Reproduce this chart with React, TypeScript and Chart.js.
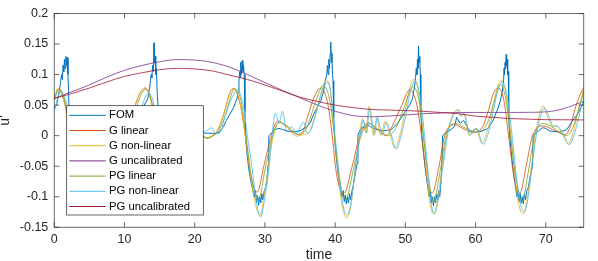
import React, { useEffect, useRef } from "react";
import { Chart, registerables } from "chart.js";

Chart.register(...registerables);

// ---------- data ----------
const xTicks = [0, 10, 20, 30, 40, 50, 60, 70];
const yTicks = [-0.15, -0.1, -0.05, 0, 0.05, 0.1, 0.15, 0.2];

const seriesNames = ["FOM", "G linear", "G non-linear", "G uncalibrated", "PG linear", "PG non-linear", "PG uncalibrated"];

const fomT = [
  0, 0.3, 0.6, 0.9, 1.05, 1.15, 1.25, 1.35, 1.45, 1.55, 1.65, 1.75, 1.85, 1.95, 2.1, 2.3, 2.6, 3.0, 3.3, 3.5, 3.7, 3.9, 4.1, 4.3, 4.5, 4.8, 5.1, 5.4, 5.5,
  6.0, 7.0, 8.0, 9.0, 10.0, 11.0, 12.0, 12.8, 13.3, 13.6, 13.7, 13.8, 13.9, 14.0, 14.1, 14.2, 14.25, 14.35, 14.45, 14.55, 14.65, 14.8, 15.0,
  15.5, 16.0, 16.3, 16.6, 16.9, 17.2, 17.5, 17.8, 18.1, 18.3, 18.4, 19.0, 20.0, 21.0, 21.5, 22.0, 22.5, 23.0, 23.5, 24.1, 24.5, 25.0, 25.5,
  26.0, 26.2, 26.3, 26.4, 26.5, 26.55, 26.65, 26.75, 26.85, 26.95, 27.05, 27.15, 27.3, 27.45, 27.7, 28.0, 28.3, 28.5, 28.65, 28.8, 28.95,
  29.1, 29.25, 29.4, 29.55, 29.7, 29.9, 30.1, 30.3, 30.45, 30.55, 31.0, 31.5, 32.0, 32.5, 33.0, 34.0, 35.0, 36.0, 36.5, 36.9, 37.5, 38.0,
  38.3, 38.6, 38.8, 38.9, 39.0, 39.1, 39.2, 39.3, 39.38, 39.45, 39.55, 39.62, 39.7, 39.8, 39.95, 40.2, 40.5, 40.8, 41.0, 41.15, 41.3, 41.45,
  41.6, 41.75, 41.9, 42.05, 42.2, 42.4, 42.6, 42.9, 43.15, 43.25, 43.6, 44.0, 44.3, 44.6, 45.0, 45.5, 46.0, 47.0, 48.0, 49.0, 50.0, 50.6,
  51.0, 51.3, 51.45, 51.55, 51.65, 51.72, 51.8, 51.88, 51.95, 52.05, 52.12, 52.2, 52.35, 52.6, 52.9, 53.2, 53.4, 53.55, 53.7, 53.85, 54.0,
  54.15, 54.3, 54.45, 54.6, 54.75, 54.9, 55.05, 55.2, 55.3, 55.8, 56.5, 57.0, 57.3, 57.8, 58.3, 59.0, 59.5, 60.0, 60.5, 61.0, 61.8, 62.5,
  63.2, 63.6, 63.9, 64.0, 64.05, 64.12, 64.2, 64.28, 64.35, 64.42, 64.5, 64.58, 64.65, 64.72, 64.85, 65.1, 65.4, 65.7, 65.9, 66.05, 66.2,
  66.35, 66.5, 66.65, 66.8, 66.95, 67.1, 67.3, 67.5, 67.8, 68.1, 68.2, 68.6, 69.0, 69.5, 70.0, 70.5, 71.0, 72.0, 73.0, 73.7, 74.5, 75.5,
];
const fomU = [
  0.045, 0.05, 0.065, 0.088, 0.1, 0.092, 0.115, 0.105, 0.125, 0.11, 0.13, 0.115, 0.128, 0.1, 0.047, 0.0, -0.04, -0.08, -0.1, -0.09, -0.11, -0.095, -0.11, -0.1, -0.108, -0.095, -0.07, -0.045, 0.002,
  0.01, 0.015, 0.01, 0.008, 0.01, 0.02, 0.035, 0.05, 0.06, 0.08, 0.09, 0.1, 0.095, 0.115, 0.105, 0.152, 0.12, 0.13, 0.1, 0.11, 0.07, 0.045, 0.0,
  -0.05, -0.09, -0.105, -0.095, -0.112, -0.1, -0.108, -0.095, -0.08, -0.05, 0.0, 0.01, 0.008, 0.006, 0.004, 0.004, 0.004, 0.003, 0.006, 0.015, 0.025, 0.035, 0.045,
  0.06, 0.071, 0.09, 0.105, 0.095, 0.12, 0.1, 0.123, 0.105, 0.115, 0.1, 0.04, -0.01, -0.03, -0.055, -0.075, -0.09, -0.1, -0.09, -0.11, -0.098,
  -0.114, -0.1, -0.11, -0.095, -0.105, -0.09, -0.085, -0.07, -0.047, 0.0, 0.005, 0.01, 0.012, 0.01, 0.008, 0.006, 0.008, 0.015, 0.022, 0.034, 0.048, 0.058,
  0.07, 0.09, 0.1, 0.115, 0.1, 0.125, 0.11, 0.135, 0.153, 0.12, 0.135, 0.1, 0.09, 0.03, -0.01, -0.04, -0.07, -0.09, -0.1, -0.09, -0.108, -0.097,
  -0.112, -0.1, -0.11, -0.095, -0.105, -0.09, -0.08, -0.06, -0.045, 0.002, 0.01, 0.015, 0.012, 0.018, 0.015, 0.012, 0.01, 0.008, 0.01, 0.022, 0.04, 0.05,
  0.06, 0.08, 0.095, 0.11, 0.1, 0.125, 0.11, 0.147, 0.12, 0.13, 0.1, 0.04, 0.0, -0.03, -0.06, -0.085, -0.1, -0.09, -0.11, -0.1, -0.115,
  -0.1, -0.11, -0.095, -0.105, -0.09, -0.1, -0.08, -0.05, 0.0, 0.005, 0.01, 0.015, 0.03, 0.02, 0.025, 0.01, 0.005, 0.012, 0.006, 0.008, 0.012, 0.025,
  0.045, 0.06, 0.08, 0.093, 0.11, 0.1, 0.12, 0.11, 0.133, 0.115, 0.125, 0.1, 0.105, 0.04, 0.0, -0.03, -0.06, -0.085, -0.1, -0.09, -0.108,
  -0.095, -0.11, -0.1, -0.112, -0.095, -0.105, -0.09, -0.085, -0.065, -0.05, 0.0, 0.005, 0.008, 0.013, 0.012, 0.008, 0.007, 0.006, 0.01, 0.023, 0.035, 0.057,
];

const gLinT = [
  0, 0.55, 1.55, 2.25, 3.05, 3.85, 4.85, 5.85, 7.3, 9.0, 9.9, 10.9, 11.9, 12.9, 13.9, 14.6, 15.4, 16.2, 17.2, 18.2, 19.5, 21.7, 22.5, 23.3,
  24.0, 24.5, 25.0, 25.5, 26.5, 27.2, 28.0, 28.9, 29.9, 30.9, 31.8, 33.0, 34.7, 35.4, 36.0, 36.9, 37.9, 38.9, 39.5, 40.2, 41.2, 42.5, 43.5,
  44.7, 46.0, 47.3, 48.1, 49.5, 50.6, 51.6, 52.3, 53.0, 53.8, 54.8, 55.6, 57.0, 58.5, 59.8, 61.0, 61.8, 62.5, 63.2, 64.0, 64.7, 65.5, 66.3,
  67.2, 68.1, 69.6, 71.0, 72.8, 73.5, 74.2, 75.0, 75.5,
];
const gLinU = [
  0.062, 0.076, 0.05, 0.0, -0.068, -0.093, -0.05, 0.0, 0.021, 0.008, 0.002, 0.026, 0.062, 0.078, 0.052, 0.0, -0.068, -0.093, -0.05, 0.0, 0.021, -0.004, 0.0, 0.01,
  0.03, 0.05, 0.07, 0.077, 0.05, 0.0, -0.068, -0.092, -0.047, 0.0, 0.024, 0.016, 0.002, 0.006, 0.028, 0.06, 0.078, 0.055, 0.008, -0.063, -0.095, -0.047, 0.0,
  0.021, 0.01, 0.0, 0.015, 0.05, 0.075, 0.052, 0.0, -0.065, -0.094, -0.05, 0.0, 0.018, 0.01, 0.005, 0.015, 0.04, 0.068, 0.078, 0.06, 0.0, -0.07, -0.094,
  -0.05, 0.0, 0.016, 0.01, 0.002, 0.015, 0.045, 0.07, 0.08,
];

const gNonT = [
  0, 0.5, 1.5, 2.2, 3.0, 3.9, 4.9, 5.9, 7.3, 9.0, 9.9, 10.9, 11.9, 12.9, 13.9, 14.6, 15.5, 16.4, 17.4, 18.4, 19.8, 21.7, 22.5, 23.3, 24.0,
  24.5, 25.0, 25.5, 26.5, 27.2, 28.0, 28.6, 29.3, 30.0, 30.5, 31.2, 32.0, 33.0, 34.5, 35.2, 36.4, 37.4, 38.1, 38.7, 39.3, 39.8, 40.3, 40.8,
  41.65, 42.3, 42.8, 43.4, 43.9, 44.4, 44.8, 45.5, 45.9, 46.5, 47.1, 47.8, 48.5, 49.2, 49.8, 50.4, 51.1, 51.8, 52.5, 53.1, 53.5, 54.0, 54.6,
  55.2, 55.9, 56.6, 57.5, 57.9, 58.3, 59.1, 60.0, 60.9, 61.7, 62.4, 63.0, 63.6, 64.3, 65.0, 65.7, 66.2, 66.8, 67.4, 67.9, 68.5, 69.0, 69.6,
  70.3, 71.0, 71.5, 72.0, 72.5, 73.2, 73.9, 74.6, 75.5,
];
const gNonU = [
  0.058, 0.077, 0.05, 0.0, -0.07, -0.125, -0.06, 0.0, 0.022, 0.006, 0.0, 0.025, 0.062, 0.078, 0.05, 0.0, -0.075, -0.128, -0.065, 0.0, 0.022, -0.004, -0.001, 0.01, 0.03,
  0.05, 0.07, 0.077, 0.052, 0.0, -0.07, -0.11, -0.13, -0.09, -0.05, 0.0, 0.022, 0.017, -0.001, 0.001, 0.007, 0.045, 0.074, 0.091, 0.075, 0.01, -0.045, -0.1,
  -0.135, -0.11, -0.06, -0.005, 0.028, 0.004, 0.048, 0.0, 0.029, 0.0, 0.023, 0.003, -0.02, 0.0, 0.03, 0.065, 0.092, 0.075, 0.01, -0.07, -0.11, -0.128, -0.105,
  -0.055, 0.0, 0.03, 0.043, 0.032, 0.037, 0.0, 0.012, -0.012, 0.01, 0.045, 0.075, 0.09, 0.07, 0.005, -0.075, -0.115, -0.128, -0.1, -0.055, 0.0, 0.03, 0.049,
  0.03, 0.015, 0.016, 0.01, 0.0, -0.013, 0.005, 0.04, 0.082,
];

const gUncT = [0, 2.5, 5, 7.5, 10, 12.5, 15, 17.5, 20, 22.5, 25, 27.5, 30, 32.5, 35, 37.5, 40, 42.5, 45, 47.5, 50, 52.5, 55, 57.5, 60, 62.5, 65, 67.5, 70, 72.5, 75.5];
const gUncU = [0.061, 0.072, 0.083, 0.096, 0.107, 0.115, 0.121, 0.1245, 0.1238, 0.12, 0.112, 0.1, 0.087, 0.074, 0.062, 0.05, 0.04, 0.033, 0.031, 0.032, 0.034, 0.036, 0.037, 0.038, 0.038, 0.038, 0.038, 0.0382, 0.039, 0.044, 0.057];

const pgLinT = [
  0, 0.7, 1.7, 2.4, 3.2, 4.1, 5.1, 6.1, 7.6, 9.3, 10.2, 11.2, 12.1, 13.0, 14.0, 14.7, 15.5, 16.4, 17.4, 18.4, 19.8, 21.7, 22.5, 23.4, 24.2,
  24.8, 25.3, 25.7, 26.7, 27.3, 28.1, 29.1, 30.1, 31.1, 32.0, 33.2, 34.8, 35.6, 36.2, 37.2, 38.3, 39.2, 39.8, 40.5, 41.4, 42.7, 43.7, 44.8,
  46.2, 47.6, 48.6, 49.8, 51.0, 51.9, 52.5, 53.2, 54.0, 55.0, 55.8, 57.2, 58.6, 60.0, 61.0, 62.0, 62.8, 63.5, 64.3, 64.9, 65.7, 66.6, 67.5,
  68.4, 69.7, 71.2, 72.9, 73.8, 74.6, 75.5,
];
const pgLinU = [
  0.058, 0.077, 0.048, 0.0, -0.07, -0.105, -0.055, 0.0, 0.02, 0.007, 0.002, 0.026, 0.06, 0.076, 0.05, 0.0, -0.07, -0.105, -0.055, 0.0, 0.02, -0.004, -0.001, 0.008, 0.028,
  0.05, 0.07, 0.077, 0.052, 0.0, -0.068, -0.103, -0.05, 0.0, 0.022, 0.015, 0.002, 0.006, 0.02, 0.055, 0.082, 0.06, 0.01, -0.06, -0.106, -0.05, 0.0, 0.02,
  0.01, 0.0, 0.012, 0.045, 0.08, 0.06, 0.005, -0.06, -0.108, -0.055, 0.0, 0.02, 0.012, 0.007, 0.01, 0.03, 0.062, 0.084, 0.06, 0.005, -0.065, -0.108, -0.06,
  0.0, 0.02, 0.012, 0.0, 0.012, 0.04, 0.076,
];

const pgNonT = [
  0, 0.9, 1.8, 2.5, 3.2, 4.0, 4.8, 5.5, 6.2, 6.8, 7.3, 7.8, 8.5, 9.2, 9.9, 10.8, 11.6, 12.4, 13.4, 14.3, 14.9, 15.5, 16.2, 16.9, 17.5, 18.1,
  18.7, 19.3, 19.9, 20.4, 21.2, 22.4, 23.0, 23.6, 24.3, 25.2, 26.1, 27.0, 27.5, 28.1, 28.8, 29.4, 30.0, 30.6, 31.0, 31.5, 32.0, 32.5, 33.1,
  33.8, 34.4, 35.5, 36.1, 37.0, 37.6, 38.3, 39.0, 39.5, 39.9, 40.4, 40.9, 41.7, 42.4, 42.9, 43.5, 44.0, 44.5, 44.9, 45.6, 46.0, 46.7, 47.3,
  48.0, 48.7, 49.4, 50.0, 50.7, 51.4, 52.0, 52.7, 53.3, 53.6, 54.1, 54.7, 55.3, 56.0, 56.7, 57.6, 58.0, 58.4, 59.2, 60.1, 61.1, 61.9, 62.6,
  63.2, 63.8, 64.5, 65.2, 65.9, 66.4, 66.9, 67.5, 68.0, 68.6, 69.2, 69.8, 70.5, 71.1, 71.6, 72.1, 72.6, 73.3, 74.0, 74.7, 75.5,
];
const pgNonU = [
  0.04, 0.072, 0.05, 0.0, -0.06, -0.12, -0.08, -0.03, 0.005, 0.03, 0.018, 0.035, 0.008, 0.015, 0.003, 0.01, 0.02, 0.046, 0.07, 0.046, 0.0, -0.06, -0.115, -0.13, -0.1, -0.05,
  0.0, 0.03, 0.015, 0.025, 0.005, 0.013, 0.003, 0.005, 0.031, 0.06, 0.074, 0.045, 0.0, -0.047, -0.11, -0.133, -0.1, -0.05, 0.0, 0.037, 0.02, 0.04, 0.007,
  0.015, 0.003, 0.022, 0.003, 0.025, 0.05, 0.078, 0.087, 0.06, 0.01, -0.045, -0.1, -0.13, -0.1, -0.05, -0.003, 0.025, 0.005, 0.045, 0.002, 0.03, 0.002, 0.022,
  0.002, -0.022, 0.0, 0.03, 0.07, 0.09, 0.07, 0.005, -0.07, -0.105, -0.128, -0.105, -0.055, 0.0, 0.03, 0.042, 0.032, 0.036, 0.001, 0.012, -0.014, 0.008, 0.045,
  0.075, 0.088, 0.065, 0.0, -0.075, -0.112, -0.125, -0.1, -0.055, -0.003, 0.03, 0.045, 0.03, 0.015, 0.016, 0.01, 0.0, -0.015, 0.0, 0.03, 0.068,
];

const pgUncT = [0, 2.5, 5, 7.5, 10, 12.5, 15, 17.5, 20, 22.5, 25, 27.5, 30, 32.5, 35, 37.5, 40, 42.5, 45, 47.5, 50, 52.5, 55, 57.5, 60, 62.5, 65, 67.5, 70, 72.5, 75.5];
const pgUncU = [0.061, 0.069, 0.078, 0.088, 0.097, 0.103, 0.108, 0.1102, 0.1092, 0.106, 0.099, 0.092, 0.083, 0.073, 0.063, 0.056, 0.05, 0.046, 0.043, 0.042, 0.041, 0.04, 0.038, 0.036, 0.032, 0.03, 0.028, 0.027, 0.0262, 0.026, 0.0258];

// ---------- styles ----------
const FONT = "'Liberation Sans', Arial, Helvetica, sans-serif";
const COLORS = ["#0072BD", "#D95319", "#EDB120", "#7E2F8E", "#77AC30", "#4DBEEE", "#A2142F"];
const WIDTHS = [1, 0.85, 0.85, 0.8, 0.85, 0.85, 0.8];
const AXIS_COLOR = "#262626";

const pts = (t: number[], u: number[]) => t.map((x, i) => ({ x, y: u[i] }));

const boxPlugin = {
  id: "boxAndTicks",
  afterDraw(chart: any) {
    const { ctx, chartArea } = chart;
    const { left, right, top, bottom } = chartArea;
    const xs = chart.scales.x;
    const ys = chart.scales.y;
    ctx.save();
    ctx.strokeStyle = AXIS_COLOR;
    ctx.lineWidth = 0.7;
    ctx.beginPath();
    ctx.rect(left, top, right - left, bottom - top);
    ctx.stroke();
    const tl = 5;
    ctx.beginPath();
    xTicks.forEach((v) => {
      const p = xs.getPixelForValue(v);
      ctx.moveTo(p, bottom);
      ctx.lineTo(p, bottom - tl);
      ctx.moveTo(p, top);
      ctx.lineTo(p, top + tl);
    });
    yTicks.forEach((v) => {
      const p = ys.getPixelForValue(v);
      ctx.moveTo(left, p);
      ctx.lineTo(left + tl, p);
      ctx.moveTo(right, p);
      ctx.lineTo(right - tl, p);
    });
    ctx.stroke();
    ctx.restore();
  },
};

const legendPlugin = {
  id: "insideLegend",
  afterDraw(chart: any) {
    const { ctx, chartArea } = chart;
    const bx = chartArea.left + 12.4;
    const bw = 136.6;
    const bh = 109.3;
    const by = chartArea.bottom - 12.3 - bh;
    ctx.save();
    ctx.fillStyle = "#ffffff";
    ctx.fillRect(bx, by, bw, bh);
    ctx.strokeStyle = AXIS_COLOR;
    ctx.lineWidth = 0.7;
    ctx.strokeRect(bx, by, bw, bh);
    ctx.font = `11.3px ${FONT}`;
    ctx.textBaseline = "middle";
    ctx.textAlign = "left";
    chart.data.datasets.forEach((ds: any, i: number) => {
      const cy = by + 9.6 + i * 15.2;
      ctx.strokeStyle = ds.borderColor;
      ctx.lineWidth = 1;
      ctx.beginPath();
      ctx.moveTo(bx + 2.5, cy);
      ctx.lineTo(bx + 39, cy);
      ctx.stroke();
      ctx.fillStyle = "#000000";
      ctx.fillText(ds.label, bx + 42.3, cy);
    });
    ctx.restore();
  },
};

export default function App() {
  const ref = useRef<HTMLCanvasElement | null>(null);

  useEffect(() => {
    document.body.style.margin = "0";
    const canvas = ref.current;
    if (!canvas) return;
    const seriesT = [fomT, gLinT, gNonT, gUncT, pgLinT, pgNonT, pgUncT];
    const seriesU = [fomU, gLinU, gNonU, gUncU, pgLinU, pgNonU, pgUncU];
    const datasets = seriesNames.map((name, i) => ({
      label: name,
      data: pts(seriesT[i], seriesU[i]),
      borderColor: COLORS[i],
      backgroundColor: COLORS[i],
      borderWidth: WIDTHS[i],
      pointRadius: 0,
      fill: false,
      tension: i === 0 ? 0 : 0.4,
      cubicInterpolationMode: i === 0 ? "default" : "monotone",
      order: seriesNames.length - i,
    }));

    const chart = new Chart(canvas, {
      type: "line",
      data: { datasets },
      plugins: [boxPlugin, legendPlugin],
      options: {
        responsive: false,
        animation: false,
        devicePixelRatio: 1,
        layout: { padding: { top: 10.3, right: 14.3, left: 0, bottom: 0 } },
        plugins: { legend: { display: false }, tooltip: { enabled: false } },
        scales: {
          x: {
            type: "linear",
            min: 0,
            max: 75.4,
            afterBuildTicks: (s: any) => {
              s.ticks = xTicks.map((v) => ({ value: v }));
            },
            afterFit: (s: any) => {
              s.height = 33.7;
            },
            grid: { display: false, drawTicks: false },
            border: { display: false },
            ticks: {
              font: { family: FONT, size: 12.5 },
              color: AXIS_COLOR,
              padding: 5.2,
              maxRotation: 0,
              autoSkip: false,
            },
            title: {
              display: true,
              text: "time",
              font: { family: FONT, size: 14, lineHeight: 0.85 },
              color: AXIS_COLOR,
              padding: 0,
            },
          },
          y: {
            type: "linear",
            min: -0.15,
            max: 0.2,
            afterBuildTicks: (s: any) => {
              s.ticks = yTicks.map((v) => ({ value: v }));
            },
            afterFit: (s: any) => {
              s.width = 54.3;
            },
            grid: { display: false, drawTicks: false },
            border: { display: false },
            ticks: {
              font: { family: FONT, size: 12.5 },
              color: AXIS_COLOR,
              padding: 6,
              autoSkip: false,
              callback: (v: any) => String(Number(Number(v).toFixed(2))),
            },
            title: {
              display: true,
              text: "u'",
              font: { family: FONT, size: 14, lineHeight: 0.8 },
              color: AXIS_COLOR,
              padding: 0,
            },
          },
        },
      } as any,
    });
    return () => chart.destroy();
  }, []);

  return (
    <div style={{ width: 598, height: 261, background: "#ffffff" }}>
      <canvas ref={ref} width={598} height={261} style={{ display: "block" }} />
    </div>
  );
}
